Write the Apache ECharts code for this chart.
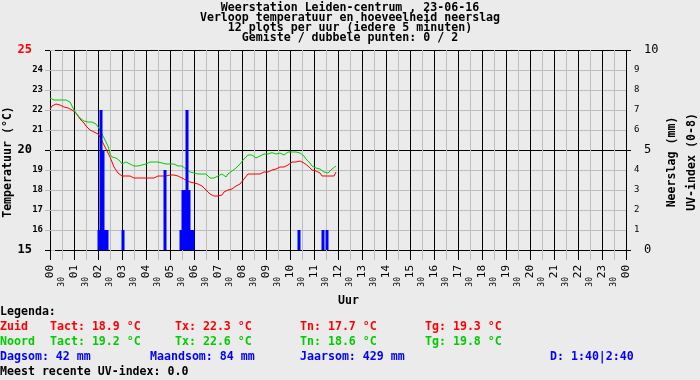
<!DOCTYPE html>
<html>
<head>
<meta charset="utf-8">
<script src="https://cdn.jsdelivr.net/npm/echarts@6/dist/echarts.min.js"></script>
<style>html,body{margin:0;padding:0;background:#ebebeb;}#c{width:700px;height:380px;}</style>
</head>
<body>
<div id="c"></div>
<script>
// ---------- data ----------
const titleLines = [
  'Weerstation Leiden-centrum , 23-06-16',
  'Verloop temperatuur en hoeveelheid neerslag',
  '12 plots per uur (iedere 5 minuten)',
  'Gemiste / dubbele punten: 0 / 2'
];
const hourLabels = ['00','01','02','03','04','05','06','07','08','09','10','11','12',
  '13','14','15','16','17','18','19','20','21','22','23','00'];
const halfLabel = '30';
// 5-minute values from 00:00 to 11:55
const zuid = [
  22.05,22.2,22.25,22.3,22.3,22.25,22.2,22.15,22.1,22.1,22.05,22.0,
  21.95,21.85,21.7,21.55,21.45,21.35,21.2,21.1,21.0,20.9,20.9,20.85,
  20.8,20.65,20.45,20.25,20.05,19.85,19.65,19.4,19.15,19.0,18.85,18.75,
  18.7,18.7,18.7,18.7,18.7,18.65,18.6,18.6,18.6,18.6,18.6,18.6,
  18.6,18.6,18.6,18.6,18.6,18.65,18.7,18.7,18.7,18.7,18.7,18.7,
  18.75,18.8,18.75,18.7,18.7,18.6,18.6,18.55,18.5,18.4,18.4,18.4,
  18.35,18.3,18.3,18.25,18.2,18.15,18.0,17.9,17.8,17.7,17.7,17.7,
  17.7,17.7,17.75,17.9,18.0,18.0,18.0,18.05,18.1,18.2,18.25,18.3,
  18.4,18.55,18.65,18.8,18.8,18.8,18.8,18.8,18.8,18.8,18.8,18.9,
  18.9,18.9,18.9,19.0,19.05,19.05,19.1,19.15,19.15,19.15,19.25,19.25,
  19.35,19.4,19.4,19.4,19.45,19.45,19.45,19.35,19.3,19.2,19.2,19.0,
  18.95,18.95,18.9,18.85,18.7,18.7,18.7,18.7,18.7,18.7,18.7,18.9
];
const noord = [
  22.6,22.5,22.5,22.5,22.5,22.5,22.5,22.5,22.5,22.5,22.4,22.2,
  22.0,21.85,21.75,21.6,21.5,21.45,21.4,21.4,21.4,21.4,21.35,21.3,
  21.2,21.0,20.8,20.6,20.4,20.2,19.8,19.65,19.55,19.6,19.5,19.45,
  19.3,19.35,19.4,19.35,19.3,19.25,19.2,19.2,19.2,19.2,19.25,19.3,
  19.3,19.35,19.4,19.4,19.4,19.4,19.4,19.4,19.35,19.3,19.3,19.3,
  19.3,19.3,19.3,19.25,19.2,19.2,19.2,19.1,19.05,19.0,18.9,18.85,
  18.85,18.8,18.8,18.8,18.8,18.8,18.8,18.7,18.6,18.6,18.6,18.65,
  18.7,18.7,18.8,18.85,18.65,18.8,18.85,18.95,19.0,19.1,19.2,19.3,
  19.4,19.55,19.65,19.75,19.75,19.75,19.7,19.6,19.65,19.7,19.7,19.8,
  19.8,19.8,19.8,19.87,19.85,19.8,19.75,19.85,19.8,19.75,19.85,19.9,
  19.9,19.9,19.9,19.9,19.95,19.85,19.85,19.7,19.55,19.45,19.35,19.2,
  19.1,19.1,19.1,19.05,19.0,18.9,18.8,18.85,18.95,19.05,19.15,19.2
];
const rainTime = ['02:00','02:05','02:10','02:15','02:20','03:00','04:45',
  '05:25','05:30','05:35','05:40','05:45','05:50','05:55','10:20','11:20','11:30'];
const rainMm = [1,7,5,1,1,1,4,1,3,3,7,3,1,1,1,1,1];
const legendZuid = ['Zuid','Tact: 18.9 °C','Tx: 22.3 °C','Tn: 17.7 °C','Tg: 19.3 °C'];
const legendNoord = ['Noord','Tact: 19.2 °C','Tx: 22.6 °C','Tn: 18.6 °C','Tg: 19.8 °C'];
const legendRain = ['Dagsom: 42 mm','Maandsom: 84 mm','Jaarsom: 429 mm','D: 1:40|2:40'];
const legendUV = 'Meest recente UV-index: 0.0';

// ---------- build ----------
const MONO = '"DejaVu Sans Mono", "Liberation Mono", monospace';
const RED = '#ff0000', GREEN = '#00cc00', BLUE = '#0000ff', GREY = '#bdbdbd';
const toH = s => { const p = s.split(':'); return +p[0] + (+p[1]) / 60; };
const zuidData = zuid.map((v, i) => [i * 5 / 60, v]);
const noordData = noord.map((v, i) => [i * 5 / 60, v]);
const rainData = rainTime.map((t, i) => [toH(t) + 2.5 / 60, rainMm[i]]);
const halfVals = hourLabels.slice(0, 24).map((_, i) => i + 0.5);

const graphic = [];
titleLines.forEach((t, i) => graphic.push({type:'text', left:'center', top: 2 + i * 10,
  style:{text:t, font:'bold 11.6px ' + MONO, fill:'#000'}}));
const txt = (x, y, t, c, rot) => graphic.push({type:'text', x:x, y:y, rotation: rot || 0,
  style:{text:t, font:'bold 11.6px ' + MONO, fill:c, align: rot ? 'center' : 'left', verticalAlign:'middle'}});
txt(8, 162, 'Temperatuur (°C)', '#000', Math.PI / 2);
txt(672, 162, 'Neerslag (mm)', '#000', Math.PI / 2);
txt(692, 162, 'UV-index (0-8)', '#000', Math.PI / 2);
graphic.push({type:'text', x:338, y:301, style:{text:'Uur', font:'bold 11.6px ' + MONO, fill:'#000', verticalAlign:'middle'}});
txt(0, 312, 'Legenda:', '#000');
const cols = [0, 50, 175, 300, 425];
legendZuid.forEach((t, i) => txt(cols[i], 327, t, RED));
legendNoord.forEach((t, i) => txt(cols[i], 342, t, GREEN));
[0, 150, 300, 550].forEach((x, i) => txt(x, 357, legendRain[i], BLUE));
txt(0, 372, legendUV, '#000');

const chart = echarts.init(document.getElementById('c'));
chart.setOption({
  animation: false,
  backgroundColor: '#ebebeb',
  grid: {left: 50, top: 50, width: 576, height: 200, containLabel: false},
  xAxis: [
    {type:'value', min:0, max:24, interval:1, position:'bottom', offset:0,
     axisLine:{show:true, lineStyle:{color:'#000', width:1}},
     axisTick:{show:true, length:10, lineStyle:{color:'#000'}},
     axisLabel:{rotate:90, margin:15, fontFamily:MONO, fontSize:11, color:'#000',
       formatter: v => hourLabels[Math.round(v)]},
     splitLine:{show:false}},
    {type:'value', min:0, max:24, interval:0.5, position:'bottom', offset:0,
     axisLine:{show:false}, axisTick:{show:false}, axisLabel:{show:false},
     splitLine:{show:true, lineStyle:{color:['#000', GREY], width:1}}},
    {type:'value', min:0, max:24, interval:0.5, position:'bottom', offset:0,
     axisLine:{show:false},
     axisTick:{show:true, length:10, lineStyle:{color:GREY}, customValues: halfVals},
     axisLabel:{rotate:90, margin:27, fontFamily:MONO, fontSize:8, color:'#000',
       customValues: halfVals, formatter: () => halfLabel},
     splitLine:{show:false}}
  ],
  yAxis: [
    {type:'value', min:15, max:25, interval:1, position:'left', offset:0,
     axisLine:{show:false},
     axisTick:{show:true, length:5, lineStyle:{color:GREY}},
     axisLabel:{margin:7, fontFamily:MONO, fontSize:9, fontWeight:'bold', color:'#000',
       formatter: v => v === 25 ? '{r|' + v + '}' : (v % 5 === 0 ? '{b|' + v + '}' : String(v)),
       rich:{r:{fontFamily:MONO, fontSize:12, color:RED, padding:[0,11,0,0]},
             b:{fontFamily:MONO, fontSize:12, color:'#000', padding:[0,11,0,0]}}},
     splitLine:{show:true, lineStyle:{color:['#000', GREY, GREY, GREY, GREY], width:1}}},
    {type:'value', min:15, max:25, interval:5, position:'left', offset:0,
     axisLine:{show:false}, axisTick:{show:true, length:5, lineStyle:{color:'#000'}},
     axisLabel:{show:false}, splitLine:{show:false}},
    {type:'value', min:0, max:10, interval:1, position:'right', offset:0,
     axisLine:{show:false},
     axisTick:{show:true, length:5, lineStyle:{color:GREY}},
     axisLabel:{margin:8, fontFamily:MONO, fontSize:9, color:'#000',
       formatter: v => v % 5 === 0 ? '{b|' + v + '}' : String(v),
       rich:{b:{fontFamily:MONO, fontSize:12, color:'#000', padding:[0,0,0,10]}}},
     splitLine:{show:false}},
    {type:'value', min:0, max:10, interval:5, position:'right', offset:0,
     axisLine:{show:false}, axisTick:{show:true, length:5, lineStyle:{color:'#000'}},
     axisLabel:{show:false}, splitLine:{show:false}}
  ],
  series: [
    {type:'line', name:'Zuid', data:zuidData, xAxisIndex:0, yAxisIndex:0, showSymbol:false,
     lineStyle:{color:RED, width:1}, z:3},
    {type:'line', name:'Noord', data:noordData, xAxisIndex:0, yAxisIndex:0, showSymbol:false,
     lineStyle:{color:GREEN, width:1}, z:3},
    {type:'bar', name:'Neerslag', data:rainData, xAxisIndex:0, yAxisIndex:2, barWidth:3,
     itemStyle:{color:BLUE}, z:5}
  ],
  graphic: graphic
});
</script>
</body>
</html>
